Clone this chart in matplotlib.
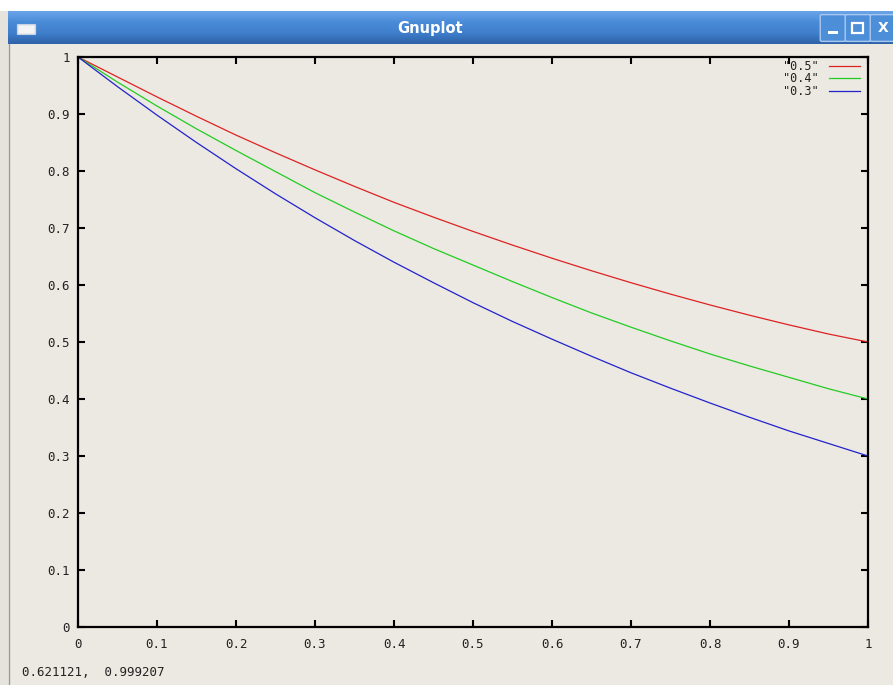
import numpy as np
import matplotlib.pyplot as plt
from matplotlib.patches import Rectangle, FancyBboxPatch
from matplotlib.colors import LinearSegmentedColormap

# === DATA ===
x_vals = [0.0, 0.05, 0.1, 0.15, 0.2, 0.25, 0.3, 0.35, 0.4, 0.45, 0.5,
          0.55, 0.6, 0.65, 0.7, 0.75, 0.8, 0.85, 0.9, 0.95, 1.0]
y_05 = [1.0, 0.965, 0.930, 0.896, 0.863, 0.832, 0.802, 0.773, 0.745, 0.719, 0.694,
        0.670, 0.647, 0.625, 0.604, 0.584, 0.565, 0.547, 0.530, 0.514, 0.500]
y_04 = [1.0, 0.956, 0.914, 0.874, 0.836, 0.799, 0.762, 0.728, 0.695, 0.664, 0.635,
        0.606, 0.578, 0.551, 0.526, 0.502, 0.479, 0.458, 0.438, 0.418, 0.400]
y_03 = [1.0, 0.948, 0.898, 0.850, 0.804, 0.760, 0.718, 0.678, 0.640, 0.604, 0.569,
        0.536, 0.505, 0.475, 0.446, 0.419, 0.393, 0.368, 0.344, 0.322, 0.300]
series_labels = ['"0.5"', '"0.4"', '"0.3"']
tick_values = [0, 0.1, 0.2, 0.3, 0.4, 0.5, 0.6, 0.7, 0.8, 0.9, 1]
tick_labels = ["0", "0.1", "0.2", "0.3", "0.4", "0.5", "0.6", "0.7", "0.8", "0.9", "1"]
status_text = "0.621121,  0.999207"

# === STYLE ===
W, H = 893, 685
BG = "#ECE9E2"
COLORS = ["#dd2222", "#22cc22", "#2222cc"]
MONO = "DejaVu Sans Mono"


def px(x, y, w, h):
    # pixel box (top-left origin) -> figure fraction
    return [x / W, 1 - (y + h) / H, w / W, h / H]


fig = plt.figure(figsize=(W / 100, H / 100), dpi=100)
fig.patch.set_facecolor(BG)

# === WINDOW CHROME ===
fig.patches.append(Rectangle((0, 1 - 11 / H), 1, 11 / H, transform=fig.transFigure,
                             facecolor="white", edgecolor="none", zorder=0))
fig.patches.append(Rectangle((0, 0), 8 / W, 1 - 11 / H, transform=fig.transFigure,
                             facecolor="#E6E3DC", edgecolor="none", zorder=0))
fig.lines.append(plt.Line2D([8.5 / W, 8.5 / W], [0, 1 - 44 / H], transform=fig.transFigure,
                            color="#9a9a9a", lw=1))

bar = fig.add_axes(px(8, 11, 885, 33))
grad = np.linspace(0, 1, 64).reshape(-1, 1)
cmap = LinearSegmentedColormap.from_list("bar", ["#6aa4e8", "#4a8bd8", "#3f7fcc", "#2f62a8"])
bar.imshow(grad, aspect="auto", cmap=cmap, extent=[0, 1, 0, 1])
bar.set_axis_off()

fig.text(430 / W, 1 - 28 / H, "Gnuplot", color="white", fontsize=10.5, fontweight="bold",
         family="DejaVu Sans", ha="center", va="center")

# window icon
fig.patches.append(FancyBboxPatch((18 / W, 1 - 34 / H), 17 / W, 9 / H,
                                  boxstyle="round,pad=0.0005", transform=fig.transFigure,
                                  facecolor="#f4f4f4", edgecolor="#c8d4e4", lw=1))

# title buttons
for bx, glyph in [(822, "min"), (847, "max"), (872, "close")]:
    fig.patches.append(FancyBboxPatch((bx / W, 1 - 40 / H), 22 / W, 24 / H,
                                      boxstyle="round,pad=0.002", transform=fig.transFigure,
                                      facecolor="#4d8ed9", edgecolor="#a9c8ee", lw=1))
    if glyph == "min":
        fig.patches.append(Rectangle(((bx + 6) / W, 1 - 34 / H), 10 / W, 3 / H,
                                     transform=fig.transFigure, facecolor="white", edgecolor="none"))
    elif glyph == "max":
        fig.patches.append(Rectangle(((bx + 5) / W, 1 - 33 / H), 11 / W, 10 / H,
                                     transform=fig.transFigure, facecolor="none",
                                     edgecolor="white", lw=1.6))
    else:
        fig.text((bx + 11) / W, 1 - 28 / H, "X", color="white", fontsize=10,
                 fontweight="bold", ha="center", va="center")

# === PLOT ===
ax = fig.add_axes(px(78, 57, 790, 570))
ax.set_facecolor(BG)
for ys, c, lab in zip([y_05, y_04, y_03], COLORS, series_labels):
    ax.plot(x_vals, ys, color=c, lw=0.9, label=lab)

ax.set_xlim(0, 1)
ax.set_ylim(0, 1)
ax.set_xticks(tick_values)
ax.set_xticklabels(tick_labels)
ax.set_yticks(tick_values)
ax.set_yticklabels(tick_labels)
for s in ax.spines.values():
    s.set_linewidth(1.6)
ax.tick_params(direction="in", length=5, width=1.5, top=True, right=True,
               labelsize=9, colors="black")
ax.tick_params(axis="x", pad=8)
ax.tick_params(axis="y", pad=6)
for t in ax.get_xticklabels() + ax.get_yticklabels():
    t.set_family(MONO)
    t.set_color("#222222")

leg = ax.legend(loc="upper right", bbox_to_anchor=(1 - 8 / 790, 1 - 3 / 570),
                frameon=False, markerfirst=False, handlelength=2.6, handletextpad=0.9,
                labelspacing=-0.05, borderaxespad=0, borderpad=0,
                prop={"family": MONO, "size": 8.5})
for t in leg.get_texts():
    t.set_color("#222222")

fig.text(22 / W, 1 - 672 / H, status_text, family=MONO, fontsize=9, color="#222222",
         ha="left", va="center")

fig.savefig("out.png", dpi=100, facecolor=fig.get_facecolor())
